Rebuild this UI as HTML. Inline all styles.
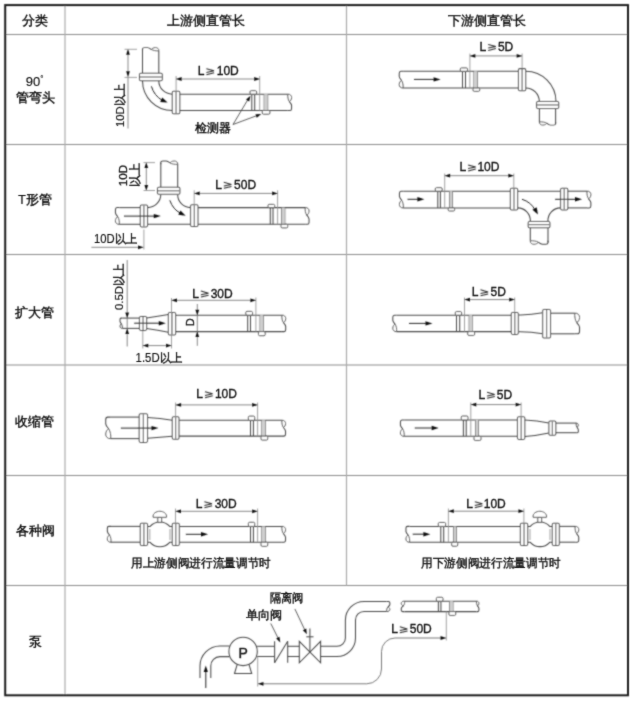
<!DOCTYPE html>
<html><head><meta charset="utf-8"><title>管道安装直管段要求</title>
<style>
html,body{margin:0;padding:0;background:#fff;}
body{width:632px;height:701px;overflow:hidden;position:relative;}
svg{position:absolute;left:0;top:0;}
svg text{font-family:"Liberation Sans",sans-serif;}
.p{fill:none;stroke:#4a4a4a;stroke-width:1.05;}
.t{stroke-width:0.38;}
.lat{stroke-width:0.15;}
.ge{fill:none;stroke:#2a2a2a;stroke-width:1.05;}
.bl{fill:#fff;stroke:#4a4a4a;stroke-width:1;}
.fl{fill:#fff;stroke:#4a4a4a;stroke-width:1.05;}
.fi{fill:none;stroke:#8a8a8a;stroke-width:0.8;}
.fc{fill:none;stroke:#6a6a6a;stroke-width:1.2;}
.sn{fill:#fff;stroke:#4a4a4a;stroke-width:1;}
.band{fill:#cfcfcf;stroke:none;}
.d{fill:none;stroke:#6a6a6a;stroke-width:0.8;}
.dn{fill:none;stroke:#6a6a6a;stroke-width:0.9;}
.e{fill:none;stroke:#8a8a8a;stroke-width:0.8;}
.pt{fill:none;stroke:#333;stroke-width:0.8;}
.fa{fill:none;stroke:#222;stroke-width:1;}
.ah{fill:#111;stroke:none;}
.g{stroke:#8c8c8c;stroke-width:1.15;}
.gv{stroke:#a8a8a8;stroke-width:1.15;}
.ob{fill:none;stroke:#1a1a1a;stroke-width:2;}
.t{fill:#111;stroke:#111;}
.dt{fill:#151515;stroke:#151515;stroke-width:0.35;}
.tp{fill:#222;stroke:#222;stroke-width:0.45;}
</style></head>
<body>
<svg width="632" height="701" viewBox="0 0 632 701">
<defs><filter id="soft" filterUnits="userSpaceOnUse" x="0" y="0" width="632" height="701"><feConvolveMatrix order="3" kernelMatrix="0.04 0.1 0.04 0.1 0.44 0.1 0.04 0.1 0.04" preserveAlpha="false" edgeMode="duplicate"/></filter>
<filter id="softt" filterUnits="userSpaceOnUse" x="0" y="0" width="632" height="701"><feConvolveMatrix order="3" kernelMatrix="0.02 0.08 0.02 0.08 0.6 0.08 0.02 0.08 0.02" preserveAlpha="false" edgeMode="duplicate"/></filter></defs>
<rect x="0" y="0" width="632" height="701" fill="#fff"/>
<g filter="url(#soft)">
<line class="g" x1="5" y1="34.5" x2="628" y2="34.5"/>
<line class="g" x1="5" y1="144.5" x2="628" y2="144.5"/>
<line class="g" x1="5" y1="254.5" x2="628" y2="254.5"/>
<line class="g" x1="5" y1="365" x2="628" y2="365"/>
<line class="g" x1="5" y1="475.5" x2="628" y2="475.5"/>
<line class="g" x1="5" y1="585.5" x2="628" y2="585.5"/>
<line class="gv" x1="65" y1="5" x2="65" y2="695"/>
<line class="gv" x1="346.5" y1="5" x2="346.5" y2="585.5"/>
<rect class="ob" x="5.2" y="5.1" width="622.8" height="690.2"/>
<line class="p" x1="158.8" y1="50.8" x2="158.8" y2="73.5"/>
<line class="p" x1="142.5" y1="49.2" x2="142.5" y2="73.5"/>
<g transform="matrix(0 -0.85 -1 0 158.8 50.8)">
<path class="bl" d="M0 0 C2.34 -0.2 3.87 1.43 3.77 3.46 C3.67 5.5 2.55 6.93 1.53 7.44 C0.31 5.6 -0.2 2.45 0 0 Z"/>
<path class="p" d="M1.53 7.44 C2.55 8.56 3.57 9.58 3.77 11.21 L3.77 14.26 Q3.77 16.3 2.24 16.3 L0 16.3"/>
</g>
<rect class="fl" x="139.5" y="73.3" width="22.8" height="7.4" rx="1.3"/>
<line class="fc" x1="140" y1="77" x2="161.8" y2="77"/>
<path class="p" d="M142.5 80.7 A29.8 29.8 0 0 0 172.3 110.5"/>
<path class="p" d="M158.8 80.7 A13.5 13.5 0 0 0 172.3 94.2"/>
<rect class="fl" x="172.3" y="91.2" width="7.5" height="22.5" rx="1.3"/>
<line class="fc" x1="176.05" y1="91.7" x2="176.05" y2="113.2"/>
<line class="p" x1="179.8" y1="94.2" x2="287.8" y2="94.2"/>
<line class="p" x1="179.8" y1="110.5" x2="287.8" y2="110.5"/>
<path class="bl" d="M287.8 94.2 C290.14 94 291.67 95.63 291.57 97.66 C291.47 99.7 290.35 101.13 289.33 101.64 C288.11 99.8 287.6 96.64 287.8 94.2 Z"/>
<path class="p" d="M289.33 101.64 C290.35 102.76 291.37 103.78 291.57 105.41 L291.57 108.46 Q291.57 110.5 290.04 110.5 L287.8 110.5"/>
<path class="fa" d="M151.4 86.3 Q154 95.5 162.5 100.6"/>
<polygon class="ah" points="167.6,102.6 160.23,101.91 162.2,97.54"/>
<line class="d" x1="128" y1="49.3" x2="128" y2="128.5"/>
<polygon class="ah" points="128,49.3 126.1,54.8 129.9,54.8"/>
<polygon class="ah" points="128,76.7 126.1,71.2 129.9,71.2"/>
<line class="e" x1="124.5" y1="49.3" x2="137" y2="49.3"/>
<line class="e" x1="124.5" y1="77.4" x2="137" y2="77.4"/>
<line class="e" x1="176.1" y1="76" x2="176.1" y2="91.2"/>
<line class="e" x1="259.7" y1="76" x2="259.7" y2="110.5"/>
<line class="d" x1="176.1" y1="79" x2="259.7" y2="79"/>
<polygon class="ah" points="176.1,79 181.6,77.1 181.6,80.9"/>
<polygon class="ah" points="259.7,79 254.2,77.1 254.2,80.9"/>
<path class="ge" d="M206.4 68.7 L214 70.8 L206.4 72.4 M206.4 74.7 L214.1 72.8"/>
<line class="p" x1="251.8" y1="94.2" x2="251.8" y2="110.5"/>
<line class="p" x1="254.7" y1="94.2" x2="254.7" y2="110.5"/>
<rect class="sn" x="250" y="90.7" width="6.6" height="3.5" rx="1.2"/>
<line class="p" x1="264.2" y1="94.2" x2="264.2" y2="110.5"/>
<line class="p" x1="267.7" y1="94.2" x2="267.7" y2="110.5"/>
<rect class="band" x="264.2" y="94.2" width="3.5" height="16.3"/>
<rect class="sn" x="262.3" y="110.5" width="7.6" height="3.7" rx="1.2"/>
<line class="pt" x1="233" y1="124.5" x2="248.5" y2="98.5"/>
<polygon class="ah" points="250.5,95.8 249.26,101.49 246.01,99.51"/>
<line class="pt" x1="233" y1="124.5" x2="258" y2="115.2"/>
<polygon class="ah" points="261.3,114 256.8,117.69 255.48,114.13"/>
<line class="p" x1="403.1" y1="71.3" x2="518.5" y2="71.3"/>
<line class="p" x1="403.1" y1="88" x2="518.5" y2="88"/>
<g transform="rotate(180 403.1 79.65)">
<path class="bl" d="M403.1 71.3 C405.5 71.09 407.07 72.76 406.96 74.85 C406.86 76.94 405.71 78.4 404.67 78.92 C403.41 77.04 402.89 73.8 403.1 71.3 Z"/>
<path class="p" d="M404.67 78.92 C405.71 80.07 406.75 81.11 406.96 82.78 L406.96 85.91 Q406.96 88 405.4 88 L403.1 88"/>
</g>
<line class="fa" x1="414" y1="79.4" x2="436.6" y2="79.4"/>
<polygon class="ah" points="440.6,79.4 433.6,77.2 433.6,81.6"/>
<line class="p" x1="462.5" y1="71.3" x2="462.5" y2="88"/>
<line class="p" x1="465.5" y1="71.3" x2="465.5" y2="88"/>
<rect class="sn" x="460.3" y="67.9" width="7.2" height="3.4" rx="1.2"/>
<line class="p" x1="474" y1="71.3" x2="474" y2="88"/>
<line class="p" x1="477.5" y1="71.3" x2="477.5" y2="88"/>
<rect class="band" x="474" y="71.3" width="3.5" height="16.7"/>
<rect class="sn" x="473" y="88" width="6.7" height="3.3" rx="1.2"/>
<rect class="fl" x="518.5" y="68.6" width="7.2" height="22.2" rx="1.3"/>
<line class="fc" x1="522.1" y1="69.1" x2="522.1" y2="90.3"/>
<path class="p" d="M525.7 71.3 A30.3 30.3 0 0 1 556 101.6"/>
<path class="p" d="M525.7 88 A13.6 13.6 0 0 1 539.3 101.6"/>
<rect class="fl" x="536.6" y="101.4" width="22.1" height="7.1" rx="1.3"/>
<line class="fc" x1="537.1" y1="104.95" x2="558.2" y2="104.95"/>
<line class="p" x1="539.4" y1="108.5" x2="539.4" y2="121.9"/>
<line class="p" x1="555.6" y1="108.5" x2="555.6" y2="123.5"/>
<g transform="matrix(0 0.85 1 0 539.4 121.9)">
<path class="bl" d="M0 0 C2.33 -0.2 3.85 1.42 3.75 3.44 C3.65 5.47 2.53 6.89 1.52 7.39 C0.3 5.57 -0.2 2.43 0 0 Z"/>
<path class="p" d="M1.52 7.39 C2.53 8.51 3.54 9.52 3.75 11.14 L3.75 14.18 Q3.75 16.2 2.23 16.2 L0 16.2"/>
</g>
<line class="e" x1="469.9" y1="53.5" x2="469.9" y2="88"/>
<line class="e" x1="522.1" y1="53.5" x2="522.1" y2="68.6"/>
<line class="d" x1="469.9" y1="55.9" x2="522.1" y2="55.9"/>
<polygon class="ah" points="469.9,55.9 475.4,54 475.4,57.8"/>
<polygon class="ah" points="522.1,55.9 516.6,54 516.6,57.8"/>
<path class="ge" d="M488.2 44.4 L495.8 46.5 L488.2 48.1 M488.2 50.4 L495.9 48.5"/>
<line class="p" x1="119.3" y1="207.6" x2="140.3" y2="207.6"/>
<line class="p" x1="119.3" y1="224.3" x2="140.3" y2="224.3"/>
<g transform="rotate(180 119.3 215.95)">
<path class="bl" d="M119.3 207.6 C121.7 207.39 123.27 209.06 123.16 211.15 C123.06 213.24 121.91 214.7 120.87 215.22 C119.61 213.34 119.09 210.1 119.3 207.6 Z"/>
<path class="p" d="M120.87 215.22 C121.91 216.37 122.95 217.41 123.16 219.08 L123.16 222.21 Q123.16 224.3 121.6 224.3 L119.3 224.3"/>
</g>
<rect class="fl" x="140.3" y="205" width="7.2" height="21.9" rx="1.3"/>
<line class="fc" x1="143.9" y1="205.5" x2="143.9" y2="226.4"/>
<line class="p" x1="147.5" y1="224.3" x2="190.6" y2="224.3"/>
<path class="p" d="M147.5 207.6 A13.3 13.3 0 0 0 160.8 194.3"/>
<path class="p" d="M177.7 194.3 A12.9 12.9 0 0 0 190.6 207.6"/>
<rect class="fl" x="157.5" y="187.3" width="22.4" height="7" rx="1.3"/>
<line class="fc" x1="158" y1="190.8" x2="179.4" y2="190.8"/>
<line class="p" x1="177.7" y1="164.3" x2="177.7" y2="187.3"/>
<line class="p" x1="160.8" y1="162.7" x2="160.8" y2="187.3"/>
<g transform="matrix(0 -0.85 -1 0 177.7 164.3)">
<path class="bl" d="M0 0 C2.43 -0.21 4.01 1.48 3.91 3.59 C3.8 5.7 2.64 7.18 1.58 7.71 C0.32 5.81 -0.21 2.53 0 0 Z"/>
<path class="p" d="M1.58 7.71 C2.64 8.87 3.7 9.93 3.91 11.62 L3.91 14.79 Q3.91 16.9 2.32 16.9 L0 16.9"/>
</g>
<rect class="fl" x="190.6" y="204.7" width="7.4" height="21.9" rx="1.3"/>
<line class="fc" x1="194.3" y1="205.2" x2="194.3" y2="226.1"/>
<line class="p" x1="198" y1="207.6" x2="305.2" y2="207.6"/>
<line class="p" x1="198" y1="224.3" x2="305.2" y2="224.3"/>
<path class="bl" d="M305.2 207.6 C307.6 207.39 309.17 209.06 309.06 211.15 C308.96 213.24 307.81 214.7 306.77 215.22 C305.51 213.34 304.99 210.1 305.2 207.6 Z"/>
<path class="p" d="M306.77 215.22 C307.81 216.37 308.85 217.41 309.06 219.08 L309.06 222.21 Q309.06 224.3 307.5 224.3 L305.2 224.3"/>
<line class="fa" x1="124" y1="216.1" x2="156.8" y2="216.1"/>
<polygon class="ah" points="160.8,216.1 153.8,213.9 153.8,218.3"/>
<path class="fa" d="M169.8 200.3 Q173 209.5 180.5 213.2"/>
<polygon class="ah" points="185.6,215.8 178.29,214.66 180.52,210.42"/>
<line class="d" x1="146.3" y1="162.6" x2="146.3" y2="190.5"/>
<polygon class="ah" points="146.3,162.6 144.4,168.1 148.2,168.1"/>
<polygon class="ah" points="146.3,190.5 144.4,185 148.2,185"/>
<line class="e" x1="143.5" y1="162.6" x2="155" y2="162.6"/>
<line class="e" x1="143.5" y1="190.5" x2="155" y2="190.5"/>
<line class="e" x1="194.2" y1="190.3" x2="194.2" y2="204.7"/>
<line class="e" x1="277.6" y1="190.3" x2="277.6" y2="224.3"/>
<line class="d" x1="194.2" y1="193.4" x2="277.6" y2="193.4"/>
<polygon class="ah" points="194.2,193.4 199.7,191.5 199.7,195.3"/>
<polygon class="ah" points="277.6,193.4 272.1,191.5 272.1,195.3"/>
<path class="ge" d="M223.8 182.3 L231.4 184.4 L223.8 186 M223.8 188.3 L231.5 186.4"/>
<line class="p" x1="270.3" y1="207.6" x2="270.3" y2="224.3"/>
<line class="p" x1="273" y1="207.6" x2="273" y2="224.3"/>
<rect class="sn" x="268" y="204.4" width="6.7" height="3.2" rx="1.2"/>
<line class="p" x1="281.6" y1="207.6" x2="281.6" y2="224.3"/>
<line class="p" x1="284.8" y1="207.6" x2="284.8" y2="224.3"/>
<rect class="band" x="281.6" y="207.6" width="3.2" height="16.7"/>
<rect class="sn" x="281" y="224.3" width="6.7" height="3.6" rx="1.2"/>
<line class="d" x1="91.4" y1="247.3" x2="143.5" y2="247.3"/>
<polygon class="ah" points="143.5,247.3 138,245.4 138,249.2"/>
<line class="e" x1="143.9" y1="229.5" x2="143.9" y2="249.5"/>
<line class="p" x1="403.3" y1="191.2" x2="510.4" y2="191.2"/>
<line class="p" x1="403.3" y1="207.9" x2="510.4" y2="207.9"/>
<g transform="rotate(180 403.3 199.55)">
<path class="bl" d="M403.3 191.2 C405.7 190.99 407.27 192.66 407.16 194.75 C407.06 196.84 405.91 198.3 404.87 198.82 C403.61 196.94 403.09 193.7 403.3 191.2 Z"/>
<path class="p" d="M404.87 198.82 C405.91 199.97 406.95 201.01 407.16 202.68 L407.16 205.81 Q407.16 207.9 405.6 207.9 L403.3 207.9"/>
</g>
<line class="fa" x1="407.5" y1="199.3" x2="420.4" y2="199.3"/>
<polygon class="ah" points="424.4,199.3 417.4,197.1 417.4,201.5"/>
<line class="p" x1="437.8" y1="191.2" x2="437.8" y2="207.9"/>
<line class="p" x1="440.4" y1="191.2" x2="440.4" y2="207.9"/>
<rect class="sn" x="435.3" y="187.7" width="6.9" height="3.5" rx="1.2"/>
<line class="p" x1="449.5" y1="191.2" x2="449.5" y2="207.9"/>
<line class="p" x1="452.3" y1="191.2" x2="452.3" y2="207.9"/>
<rect class="band" x="449.5" y="191.2" width="2.8" height="16.7"/>
<rect class="sn" x="448.2" y="207.9" width="6.4" height="3.1" rx="1.2"/>
<rect class="fl" x="510.4" y="188.2" width="7.2" height="21.9" rx="1.3"/>
<line class="fc" x1="514" y1="188.7" x2="514" y2="209.6"/>
<line class="p" x1="517.6" y1="191.2" x2="560.6" y2="191.2"/>
<path class="p" d="M517.6 207.9 A12.7 12.7 0 0 1 530.3 221.4"/>
<path class="p" d="M548 221.4 A12.6 12.6 0 0 1 560.6 207.9"/>
<rect class="fl" x="528.2" y="221.4" width="21.7" height="6.4" rx="1.3"/>
<line class="fc" x1="528.7" y1="224.6" x2="549.4" y2="224.6"/>
<line class="p" x1="530.3" y1="227.8" x2="530.3" y2="240.8"/>
<line class="p" x1="548" y1="227.8" x2="548" y2="242.4"/>
<g transform="matrix(0 0.85 1 0 530.3 240.8)">
<path class="bl" d="M0 0 C2.54 -0.22 4.2 1.55 4.09 3.76 C3.98 5.97 2.77 7.52 1.66 8.08 C0.33 6.08 -0.22 2.66 0 0 Z"/>
<path class="p" d="M1.66 8.08 C2.77 9.29 3.87 10.4 4.09 12.17 L4.09 15.49 Q4.09 17.7 2.43 17.7 L0 17.7"/>
</g>
<rect class="fl" x="560.6" y="188.2" width="7.2" height="21.7" rx="1.3"/>
<line class="fc" x1="564.2" y1="188.7" x2="564.2" y2="209.4"/>
<line class="p" x1="567.8" y1="191.2" x2="587" y2="191.2"/>
<line class="p" x1="567.8" y1="207.9" x2="587" y2="207.9"/>
<path class="bl" d="M587 191.2 C589.4 190.99 590.97 192.66 590.86 194.75 C590.76 196.84 589.61 198.3 588.57 198.82 C587.31 196.94 586.79 193.7 587 191.2 Z"/>
<path class="p" d="M588.57 198.82 C589.61 199.97 590.65 201.01 590.86 202.68 L590.86 205.81 Q590.86 207.9 589.3 207.9 L587 207.9"/>
<line class="fa" x1="555.1" y1="199.3" x2="578" y2="199.3"/>
<polygon class="ah" points="582,199.3 575,197.1 575,201.5"/>
<path class="fa" d="M522 199.3 Q531 202 535 210"/>
<polygon class="ah" points="538,214.6 532.49,209.66 536.68,207.32"/>
<line class="e" x1="444.7" y1="173.5" x2="444.7" y2="207.9"/>
<line class="e" x1="513.8" y1="173.5" x2="513.8" y2="188.2"/>
<line class="d" x1="444.7" y1="175.7" x2="513.8" y2="175.7"/>
<polygon class="ah" points="444.7,175.7 450.2,173.8 450.2,177.6"/>
<polygon class="ah" points="513.8,175.7 508.3,173.8 508.3,177.6"/>
<path class="ge" d="M468.1 164.9 L475.7 167 L468.1 168.6 M468.1 170.9 L475.8 169"/>
<line class="p" x1="122.4" y1="318.1" x2="139.5" y2="318.1"/>
<line class="p" x1="122.4" y1="328.4" x2="139.5" y2="328.4"/>
<g transform="rotate(180 122.4 323.25)">
<path class="bl" d="M122.4 318.1 C123.88 317.97 124.85 319 124.78 320.29 C124.72 321.58 124.01 322.48 123.37 322.8 C122.59 321.64 122.27 319.65 122.4 318.1 Z"/>
<path class="p" d="M123.37 322.8 C124.01 323.51 124.65 324.15 124.78 325.18 L124.78 327.11 Q124.78 328.4 123.82 328.4 L122.4 328.4"/>
</g>
<rect class="fl" x="139.5" y="316.5" width="7.1" height="13.9" rx="1.3"/>
<line class="fc" x1="143.05" y1="317" x2="143.05" y2="329.9"/>
<path class="p" d="M146.6 318 Q158 316.5 168.4 314.6"/>
<path class="p" d="M146.6 328.5 Q158 330 168.4 332.2"/>
<rect class="fl" x="168.4" y="312.5" width="7.2" height="22.5" rx="1.3"/>
<line class="fc" x1="172" y1="313" x2="172" y2="334.5"/>
<line class="p" x1="175.6" y1="315.2" x2="281.9" y2="315.2"/>
<line class="p" x1="175.6" y1="331.6" x2="281.9" y2="331.6"/>
<path class="bl" d="M281.9 315.2 C284.26 315 285.79 316.63 285.69 318.69 C285.59 320.74 284.46 322.17 283.44 322.68 C282.21 320.84 281.69 317.66 281.9 315.2 Z"/>
<path class="p" d="M283.44 322.68 C284.46 323.81 285.49 324.84 285.69 326.48 L285.69 329.55 Q285.69 331.6 284.15 331.6 L281.9 331.6"/>
<line class="fa" x1="134.2" y1="323.2" x2="161.8" y2="323.2"/>
<polygon class="ah" points="165.8,323.2 158.8,321 158.8,325.4"/>
<line class="d" x1="127.2" y1="260" x2="127.2" y2="346.5"/>
<polygon class="ah" points="127.2,318.1 125.3,312.6 129.1,312.6"/>
<polygon class="ah" points="127.2,328.4 125.3,333.9 129.1,333.9"/>
<line class="e" x1="142.8" y1="331" x2="142.8" y2="348.5"/>
<line class="e" x1="171.5" y1="298" x2="171.5" y2="348.5"/>
<line class="d" x1="142.8" y1="345.6" x2="171.5" y2="345.6"/>
<polygon class="ah" points="142.8,345.6 148.3,343.7 148.3,347.5"/>
<polygon class="ah" points="171.5,345.6 166,343.7 166,347.5"/>
<line class="e" x1="255.9" y1="297.5" x2="255.9" y2="331.6"/>
<line class="d" x1="171.5" y1="300.3" x2="255.9" y2="300.3"/>
<polygon class="ah" points="171.5,300.3 177,298.4 177,302.2"/>
<polygon class="ah" points="255.9,300.3 250.4,298.4 250.4,302.2"/>
<path class="ge" d="M200.9 291.1 L208.5 293.2 L200.9 294.8 M200.9 297.1 L208.6 295.2"/>
<line class="d" x1="197.3" y1="304" x2="197.3" y2="345.8"/>
<polygon class="ah" points="197.3,315.2 195.4,309.7 199.2,309.7"/>
<polygon class="ah" points="197.3,331.6 195.4,337.1 199.2,337.1"/>
<line class="p" x1="247.7" y1="315.2" x2="247.7" y2="331.6"/>
<line class="p" x1="250.5" y1="315.2" x2="250.5" y2="331.6"/>
<rect class="sn" x="245.8" y="311.4" width="6.7" height="3.8" rx="1.2"/>
<line class="p" x1="260.1" y1="315.2" x2="260.1" y2="331.6"/>
<line class="p" x1="263.2" y1="315.2" x2="263.2" y2="331.6"/>
<rect class="band" x="260.1" y="315.2" width="3.1" height="16.4"/>
<rect class="sn" x="258.5" y="331.6" width="6.7" height="4.1" rx="1.2"/>
<line class="p" x1="396.6" y1="315.2" x2="511.3" y2="315.2"/>
<line class="p" x1="396.6" y1="331.6" x2="511.3" y2="331.6"/>
<g transform="rotate(180 396.6 323.4)">
<path class="bl" d="M396.6 315.2 C398.96 315 400.5 316.63 400.39 318.69 C400.29 320.74 399.16 322.17 398.14 322.68 C396.91 320.84 396.4 317.66 396.6 315.2 Z"/>
<path class="p" d="M398.14 322.68 C399.16 323.81 400.19 324.84 400.39 326.48 L400.39 329.55 Q400.39 331.6 398.86 331.6 L396.6 331.6"/>
</g>
<line class="fa" x1="409" y1="323.4" x2="428.5" y2="323.4"/>
<polygon class="ah" points="432.5,323.4 425.5,321.2 425.5,325.6"/>
<line class="p" x1="456.5" y1="315.2" x2="456.5" y2="331.6"/>
<line class="p" x1="459.7" y1="315.2" x2="459.7" y2="331.6"/>
<rect class="sn" x="455.3" y="311.6" width="6.3" height="3.6" rx="1.2"/>
<line class="p" x1="469.2" y1="315.2" x2="469.2" y2="331.6"/>
<line class="p" x1="472.1" y1="315.2" x2="472.1" y2="331.6"/>
<rect class="band" x="469.2" y="315.2" width="2.9" height="16.4"/>
<rect class="sn" x="467.7" y="331.6" width="6.9" height="3.8" rx="1.2"/>
<rect class="fl" x="511.3" y="312.5" width="7" height="21.9" rx="1.3"/>
<line class="fc" x1="514.8" y1="313" x2="514.8" y2="333.9"/>
<path class="p" d="M518.3 314.9 Q530 315.2 542.7 312.8"/>
<path class="p" d="M518.3 331.8 Q530 331.6 542.7 333.8"/>
<rect class="fl" x="542.7" y="309.4" width="7.8" height="28.6" rx="1.3"/>
<line class="fc" x1="546.6" y1="309.9" x2="546.6" y2="337.5"/>
<line class="p" x1="550.5" y1="313.2" x2="574.8" y2="313.2"/>
<line class="p" x1="550.5" y1="333.8" x2="574.8" y2="333.8"/>
<path class="bl" d="M574.8 313.2 C577.76 312.94 579.69 315 579.56 317.58 C579.43 320.15 578.02 321.95 576.73 322.6 C575.19 320.28 574.54 316.29 574.8 313.2 Z"/>
<path class="p" d="M576.73 322.6 C578.02 324.01 579.31 325.3 579.56 327.36 L579.56 331.23 Q579.56 333.8 577.63 333.8 L574.8 333.8"/>
<line class="e" x1="464.5" y1="297.5" x2="464.5" y2="331.6"/>
<line class="e" x1="514.7" y1="297.5" x2="514.7" y2="312.5"/>
<line class="d" x1="464.5" y1="299.6" x2="514.7" y2="299.6"/>
<polygon class="ah" points="464.5,299.6 470,297.7 470,301.5"/>
<polygon class="ah" points="514.7,299.6 509.2,297.7 509.2,301.5"/>
<path class="ge" d="M480.5 289.8 L488.1 291.9 L480.5 293.5 M480.5 295.8 L488.2 293.9"/>
<line class="p" x1="110.7" y1="417.1" x2="139.2" y2="417.1"/>
<line class="p" x1="110.7" y1="438.6" x2="139.2" y2="438.6"/>
<g transform="rotate(180 110.7 427.85)">
<path class="bl" d="M110.7 417.1 C113.79 416.83 115.81 418.98 115.67 421.67 C115.54 424.36 114.06 426.24 112.72 426.91 C111.1 424.49 110.43 420.33 110.7 417.1 Z"/>
<path class="p" d="M112.72 426.91 C114.06 428.39 115.4 429.73 115.67 431.88 L115.67 435.91 Q115.67 438.6 113.66 438.6 L110.7 438.6"/>
</g>
<rect class="fl" x="139.2" y="413.7" width="8.3" height="28.7" rx="1.3"/>
<line class="fc" x1="143.35" y1="414.2" x2="143.35" y2="441.9"/>
<path class="p" d="M147.5 417.6 Q160 418.5 172.3 420.2"/>
<path class="p" d="M147.5 438.2 Q160 437.4 172.3 436.2"/>
<rect class="fl" x="172.3" y="416.8" width="6.7" height="22.4" rx="1.3"/>
<line class="fc" x1="175.65" y1="417.3" x2="175.65" y2="438.7"/>
<line class="p" x1="179" y1="420.3" x2="281.9" y2="420.3"/>
<line class="p" x1="179" y1="436.1" x2="281.9" y2="436.1"/>
<path class="bl" d="M281.9 420.3 C284.17 420.1 285.65 421.68 285.55 423.66 C285.45 425.63 284.37 427.02 283.38 427.51 C282.2 425.73 281.7 422.67 281.9 420.3 Z"/>
<path class="p" d="M283.38 427.51 C284.37 428.6 285.36 429.58 285.55 431.16 L285.55 434.12 Q285.55 436.1 284.07 436.1 L281.9 436.1"/>
<line class="fa" x1="120.9" y1="428.1" x2="154.5" y2="428.1"/>
<polygon class="ah" points="158.5,428.1 151.5,425.9 151.5,430.3"/>
<line class="e" x1="175.6" y1="402.5" x2="175.6" y2="416.8"/>
<line class="e" x1="257.6" y1="402.5" x2="257.6" y2="436.1"/>
<line class="d" x1="175.6" y1="404.9" x2="257.6" y2="404.9"/>
<polygon class="ah" points="175.6,404.9 181.1,403 181.1,406.8"/>
<polygon class="ah" points="257.6,404.9 252.1,403 252.1,406.8"/>
<path class="ge" d="M205 391.7 L212.6 393.8 L205 395.4 M205 397.7 L212.7 395.8"/>
<line class="p" x1="250.5" y1="420.3" x2="250.5" y2="436.1"/>
<line class="p" x1="253.4" y1="420.3" x2="253.4" y2="436.1"/>
<rect class="sn" x="248.4" y="416.1" width="6.3" height="4.2" rx="1.2"/>
<line class="p" x1="261.9" y1="420.3" x2="261.9" y2="436.1"/>
<line class="p" x1="265.2" y1="420.3" x2="265.2" y2="436.1"/>
<rect class="band" x="261.9" y="420.3" width="3.3" height="15.8"/>
<rect class="sn" x="261" y="436.1" width="6.7" height="4" rx="1.2"/>
<line class="p" x1="404.2" y1="420" x2="517.5" y2="420"/>
<line class="p" x1="404.2" y1="436.3" x2="517.5" y2="436.3"/>
<g transform="rotate(180 404.2 428.15)">
<path class="bl" d="M404.2 420 C406.54 419.8 408.07 421.43 407.97 423.46 C407.87 425.5 406.75 426.93 405.73 427.44 C404.51 425.6 404 422.44 404.2 420 Z"/>
<path class="p" d="M405.73 427.44 C406.75 428.56 407.77 429.58 407.97 431.21 L407.97 434.26 Q407.97 436.3 406.44 436.3 L404.2 436.3"/>
</g>
<line class="fa" x1="414.7" y1="428" x2="434.7" y2="428"/>
<polygon class="ah" points="438.7,428 431.7,425.8 431.7,430.2"/>
<line class="p" x1="463.4" y1="420" x2="463.4" y2="436.3"/>
<line class="p" x1="466.2" y1="420" x2="466.2" y2="436.3"/>
<rect class="sn" x="461.3" y="416" width="6.7" height="4" rx="1.2"/>
<line class="p" x1="475.5" y1="420" x2="475.5" y2="436.3"/>
<line class="p" x1="478.4" y1="420" x2="478.4" y2="436.3"/>
<rect class="band" x="475.5" y="420" width="2.9" height="16.3"/>
<rect class="sn" x="474" y="436.3" width="7" height="4.1" rx="1.2"/>
<rect class="fl" x="517.5" y="416.7" width="7.3" height="22.7" rx="1.3"/>
<line class="fc" x1="521.15" y1="417.2" x2="521.15" y2="438.9"/>
<path class="p" d="M524.8 420.1 Q537 420.6 548.9 422.9"/>
<path class="p" d="M524.8 436.5 Q537 435.6 548.9 433"/>
<rect class="fl" x="548.9" y="421" width="6.9" height="14.3" rx="1.3"/>
<line class="fc" x1="552.35" y1="421.5" x2="552.35" y2="434.8"/>
<line class="p" x1="555.8" y1="423.1" x2="576.1" y2="423.1"/>
<line class="p" x1="555.8" y1="432.7" x2="576.1" y2="432.7"/>
<path class="bl" d="M576.1 423.1 C577.48 422.98 578.38 423.94 578.32 425.14 C578.26 426.34 577.6 427.18 577 427.48 C576.28 426.4 575.98 424.54 576.1 423.1 Z"/>
<path class="p" d="M577 427.48 C577.6 428.14 578.2 428.74 578.32 429.7 L578.32 431.5 Q578.32 432.7 577.42 432.7 L576.1 432.7"/>
<line class="e" x1="470.8" y1="402.5" x2="470.8" y2="436.3"/>
<line class="e" x1="521.1" y1="402.5" x2="521.1" y2="416.7"/>
<line class="d" x1="470.8" y1="404.6" x2="521.1" y2="404.6"/>
<polygon class="ah" points="470.8,404.6 476.3,402.7 476.3,406.5"/>
<polygon class="ah" points="521.1,404.6 515.6,402.7 515.6,406.5"/>
<path class="ge" d="M487.1 392.3 L494.7 394.4 L487.1 396 M487.1 398.3 L494.8 396.4"/>
<line class="p" x1="111" y1="526.4" x2="140.3" y2="526.4"/>
<line class="p" x1="111" y1="542.2" x2="140.3" y2="542.2"/>
<g transform="rotate(180 111 534.3)">
<path class="bl" d="M111 526.4 C113.27 526.2 114.75 527.78 114.65 529.76 C114.56 531.73 113.47 533.12 112.48 533.61 C111.3 531.83 110.8 528.77 111 526.4 Z"/>
<path class="p" d="M112.48 533.61 C113.47 534.7 114.46 535.68 114.65 537.26 L114.65 540.23 Q114.65 542.2 113.17 542.2 L111 542.2"/>
</g>
<rect class="fl" x="140.3" y="523.2" width="7.2" height="22.3" rx="1.3"/>
<line class="fc" x1="143.9" y1="523.7" x2="143.9" y2="545"/>
<rect class="fl" x="172.3" y="523.2" width="7" height="22.3" rx="1.3"/>
<line class="fc" x1="175.8" y1="523.7" x2="175.8" y2="545"/>
<path class="p" d="M147.5 526.4 L150.1 526.4 A13 13 0 0 1 169.7 526.4 L172.3 526.4"/>
<path class="p" d="M147.5 542.3 L150.1 542.3 A13 13 0 0 0 169.7 542.3 L172.3 542.3"/>
<line class="fi" x1="149.8" y1="529" x2="149.8" y2="540"/>
<line class="fi" x1="170" y1="529" x2="170" y2="540"/>
<rect class="sn" x="157.8" y="517.5" width="3.8" height="4.8" rx="0.3"/>
<path class="sn" d="M153.2 517.3 L166.4 517.3 C167.2 513.5 163.3 511.3 159.8 511.3 C156.3 511.3 152.4 513.5 153.2 517.3 Z"/>
<line class="p" x1="179.3" y1="526.4" x2="281.9" y2="526.4"/>
<line class="p" x1="179.3" y1="542.2" x2="281.9" y2="542.2"/>
<path class="bl" d="M281.9 526.4 C284.17 526.2 285.65 527.78 285.55 529.76 C285.45 531.73 284.37 533.12 283.38 533.61 C282.2 531.83 281.7 528.77 281.9 526.4 Z"/>
<path class="p" d="M283.38 533.61 C284.37 534.7 285.36 535.68 285.55 537.26 L285.55 540.23 Q285.55 542.2 284.07 542.2 L281.9 542.2"/>
<line class="fa" x1="185.8" y1="534.3" x2="204" y2="534.3"/>
<polygon class="ah" points="208,534.3 201,532.1 201,536.5"/>
<line class="e" x1="175.5" y1="508.5" x2="175.5" y2="523.2"/>
<line class="e" x1="257.6" y1="508.5" x2="257.6" y2="542.2"/>
<line class="d" x1="175.5" y1="511.3" x2="257.6" y2="511.3"/>
<polygon class="ah" points="175.5,511.3 181,509.4 181,513.2"/>
<polygon class="ah" points="257.6,511.3 252.1,509.4 252.1,513.2"/>
<path class="ge" d="M204.4 501.7 L212 503.8 L204.4 505.4 M204.4 507.7 L212.1 505.8"/>
<line class="p" x1="250.5" y1="526.4" x2="250.5" y2="542.2"/>
<line class="p" x1="253.4" y1="526.4" x2="253.4" y2="542.2"/>
<rect class="sn" x="248.4" y="522.3" width="6.3" height="4.1" rx="1.2"/>
<line class="p" x1="261.9" y1="526.4" x2="261.9" y2="542.2"/>
<line class="p" x1="265.2" y1="526.4" x2="265.2" y2="542.2"/>
<rect class="band" x="261.9" y="526.4" width="3.3" height="15.8"/>
<rect class="sn" x="261" y="542.2" width="6.7" height="4.1" rx="1.2"/>
<line class="p" x1="409.6" y1="526.4" x2="520.4" y2="526.4"/>
<line class="p" x1="409.6" y1="542.2" x2="520.4" y2="542.2"/>
<g transform="rotate(180 409.6 534.3)">
<path class="bl" d="M409.6 526.4 C411.87 526.2 413.35 527.78 413.25 529.76 C413.16 531.73 412.07 533.12 411.08 533.61 C409.9 531.83 409.4 528.77 409.6 526.4 Z"/>
<path class="p" d="M411.08 533.61 C412.07 534.7 413.06 535.68 413.25 537.26 L413.25 540.23 Q413.25 542.2 411.77 542.2 L409.6 542.2"/>
</g>
<line class="fa" x1="412.7" y1="534.2" x2="426.4" y2="534.2"/>
<polygon class="ah" points="430.4,534.2 423.4,532 423.4,536.4"/>
<line class="p" x1="440.8" y1="526.4" x2="440.8" y2="542.2"/>
<line class="p" x1="443.7" y1="526.4" x2="443.7" y2="542.2"/>
<rect class="sn" x="438.3" y="522.5" width="7.3" height="3.9" rx="1.2"/>
<line class="p" x1="453.5" y1="526.4" x2="453.5" y2="542.2"/>
<line class="p" x1="456.4" y1="526.4" x2="456.4" y2="542.2"/>
<rect class="band" x="453.5" y="526.4" width="2.9" height="15.8"/>
<rect class="sn" x="451.7" y="542.2" width="6" height="4" rx="1.2"/>
<rect class="fl" x="520.4" y="523.2" width="7.3" height="22.3" rx="1.3"/>
<line class="fc" x1="524.05" y1="523.7" x2="524.05" y2="545"/>
<rect class="fl" x="552.3" y="523.2" width="7" height="22.3" rx="1.3"/>
<line class="fc" x1="555.8" y1="523.7" x2="555.8" y2="545"/>
<path class="p" d="M527.7 526.4 L530.3 526.4 A13 13 0 0 1 549.7 526.4 L552.3 526.4"/>
<path class="p" d="M527.7 542.3 L530.3 542.3 A13 13 0 0 0 549.7 542.3 L552.3 542.3"/>
<line class="fi" x1="530" y1="529" x2="530" y2="540"/>
<line class="fi" x1="550" y1="529" x2="550" y2="540"/>
<rect class="sn" x="537.8" y="517.5" width="3.8" height="4.8" rx="0.3"/>
<path class="sn" d="M533.2 517.3 L546.4 517.3 C547.2 513.5 543.3 511.3 539.8 511.3 C536.3 511.3 532.4 513.5 533.2 517.3 Z"/>
<line class="p" x1="559.3" y1="526.4" x2="575.1" y2="526.4"/>
<line class="p" x1="559.3" y1="542.2" x2="575.1" y2="542.2"/>
<path class="bl" d="M575.1 526.4 C577.37 526.2 578.85 527.78 578.75 529.76 C578.66 531.73 577.57 533.12 576.58 533.61 C575.4 531.83 574.9 528.77 575.1 526.4 Z"/>
<path class="p" d="M576.58 533.61 C577.57 534.7 578.56 535.68 578.75 537.26 L578.75 540.23 Q578.75 542.2 577.27 542.2 L575.1 542.2"/>
<line class="e" x1="448.4" y1="508.5" x2="448.4" y2="542.2"/>
<line class="e" x1="523.9" y1="508.5" x2="523.9" y2="523.2"/>
<line class="d" x1="448.4" y1="511.2" x2="523.9" y2="511.2"/>
<polygon class="ah" points="448.4,511.2 453.9,509.3 453.9,513.1"/>
<polygon class="ah" points="523.9,511.2 518.4,509.3 518.4,513.1"/>
<path class="ge" d="M474.8 501.7 L482.4 503.8 L474.8 505.4 M474.8 507.7 L482.5 505.8"/>
<path class="p" d="M200 678 L200 666 A20 20 0 0 1 220 646 L229.5 646"/>
<path class="p" d="M210.8 678 L210.8 666 A9.2 9.2 0 0 1 220 656.6 L229.5 656.6"/>
<line class="fa" x1="205.8" y1="688" x2="205.8" y2="670"/>
<polygon class="ah" points="205.8,665.6 203.7,672.1 207.9,672.1"/>
<circle class="p" cx="243.1" cy="651.4" r="14.2"/>
<path class="p" d="M237.2 664.4 L234.5 673.5 L251.7 673.5 L249 664.4"/>
<line class="p" x1="257.2" y1="646.3" x2="274.6" y2="646.3"/>
<line class="p" x1="257.2" y1="656.5" x2="274.6" y2="656.5"/>
<line class="p" x1="274.6" y1="641.3" x2="274.6" y2="662.8"/>
<line class="p" x1="274.6" y1="662.8" x2="287.7" y2="641.3"/>
<line class="p" x1="287.7" y1="641.3" x2="287.7" y2="662.8"/>
<line class="p" x1="287.7" y1="646.3" x2="299.3" y2="646.3"/>
<line class="p" x1="287.7" y1="656.5" x2="299.3" y2="656.5"/>
<path class="p" d="M299.3 641.3 L299.3 662.8 L320.6 641.3 L320.6 662.8 Z"/>
<line class="p" x1="309.9" y1="628.6" x2="309.9" y2="651.9"/>
<line class="p" x1="306.3" y1="636.8" x2="313.5" y2="636.8"/>
<path class="p" d="M320.6 646.3 L337 646.3 A8.4 8.4 0 0 0 345.4 637.9 L345.4 620 A18.6 18.6 0 0 1 364 601.4 L386.7 601.4"/>
<path class="p" d="M320.6 656.5 L337 656.5 A18.5 18.5 0 0 0 355.5 638 L355.5 620 A8.5 8.5 0 0 1 364 611.5 L386.7 611.5"/>
<g transform="translate(0 1212.9) scale(1 -1)">
<path class="bl" d="M386.7 601.4 C388.65 601.27 389.93 602.28 389.84 603.55 C389.76 604.81 388.82 605.69 387.97 606.01 C386.95 604.87 386.53 602.91 386.7 601.4 Z"/>
<path class="p" d="M387.97 606.01 C388.82 606.7 389.68 607.33 389.84 608.34 L389.84 610.24 Q389.84 611.5 388.57 611.5 L386.7 611.5"/>
</g>
<line class="p" x1="404.6" y1="601.2" x2="476.5" y2="601.2"/>
<line class="p" x1="404.6" y1="611.6" x2="476.5" y2="611.6"/>
<g transform="rotate(180 404.6 606.4) translate(0 1212.8) scale(1 -1)">
<path class="bl" d="M404.6 601.2 C406.67 601.07 408.02 602.11 407.93 603.41 C407.84 604.71 406.85 605.62 405.95 605.95 C404.87 604.78 404.42 602.76 404.6 601.2 Z"/>
<path class="p" d="M405.95 605.95 C406.85 606.66 407.75 607.31 407.93 608.35 L407.93 610.3 Q407.93 611.6 406.58 611.6 L404.6 611.6"/>
</g>
<path class="bl" d="M476.5 601.2 C478 601.07 478.97 602.11 478.9 603.41 C478.84 604.71 478.12 605.62 477.48 605.95 C476.69 604.78 476.37 602.76 476.5 601.2 Z"/>
<path class="p" d="M477.48 605.95 C478.12 606.66 478.77 607.31 478.9 608.35 L478.9 610.3 Q478.9 611.6 477.93 611.6 L476.5 611.6"/>
<line class="p" x1="438.4" y1="601.2" x2="438.4" y2="611.6"/>
<line class="p" x1="440.9" y1="601.2" x2="440.9" y2="611.6"/>
<rect class="sn" x="436.4" y="597.3" width="6.6" height="3.9" rx="1.2"/>
<line class="p" x1="449.7" y1="601.2" x2="449.7" y2="611.6"/>
<line class="p" x1="452.9" y1="601.2" x2="452.9" y2="611.6"/>
<rect class="band" x="449.7" y="601.2" width="3.2" height="10.4"/>
<rect class="sn" x="448.9" y="611.6" width="6.8" height="3.8" rx="1.2"/>
<line class="e" x1="446.3" y1="611.6" x2="446.3" y2="640.5"/>
<path class="dn" d="M446 638 L395 638 A13.5 13.5 0 0 0 381.5 651.5 L381.5 669 A14.8 14.8 0 0 1 366.7 683.8 L258 683.8"/>
<polygon class="ah" points="446,638 440.5,636.1 440.5,639.9"/>
<polygon class="ah" points="258,683.8 263.5,681.9 263.5,685.7"/>
<line class="e" x1="257.7" y1="656.5" x2="257.7" y2="686.5"/>
<path class="ge" d="M399.8 626.8 L407.4 628.9 L399.8 630.5 M399.8 632.8 L407.5 630.9"/>
<line class="pt" x1="270.8" y1="623.5" x2="278" y2="638"/>
<polygon class="ah" points="280.3,642.5 276.14,638.43 279.54,636.73"/>
<line class="pt" x1="294.9" y1="609" x2="304.6" y2="629.5"/>
<polygon class="ah" points="306.9,634.3 302.83,630.14 306.26,628.52"/>
</g>
<g filter="url(#softt)">
<text class="t" x="35.3" y="24.8" font-size="13" text-anchor="middle">分类</text>
<text class="t" x="205.5" y="24.8" font-size="13" text-anchor="middle">上游侧直管长</text>
<text class="t" x="486.5" y="24.8" font-size="13" text-anchor="middle">下游侧直管长</text>
<text class="t" x="34.7" y="86.1" font-size="13" text-anchor="middle"><tspan class="lat">90</tspan><tspan class="lat" font-size="8" dy="-4.8">°</tspan></text>
<text class="t" x="35.3" y="102.4" font-size="13" text-anchor="middle">管弯头</text>
<text class="t" x="35" y="203.8" font-size="13" text-anchor="middle"><tspan class="lat">T</tspan>形管</text>
<text class="t" x="34.7" y="316.5" font-size="13" text-anchor="middle">扩大管</text>
<text class="t" x="34.7" y="426.2" font-size="13" text-anchor="middle">收缩管</text>
<text class="t" x="35.3" y="535.1" font-size="13" text-anchor="middle">各种阀</text>
<text class="t" x="35.2" y="646.4" font-size="13" text-anchor="middle">泵</text>
<text class="t" x="-21.75" y="0" font-size="11.8" text-anchor="start" textLength="43.5" lengthAdjust="spacingAndGlyphs" transform="translate(123.6 105.25) rotate(-90)"><tspan class="lat">10D</tspan>以上</text>
<text class="dt" x="197.75" y="75.1" font-size="12" text-anchor="start">L</text>
<text class="dt" x="238.75" y="75.1" font-size="12" text-anchor="end">10D</text>
<text class="t" x="213.3" y="131.8" font-size="11.6" text-anchor="middle">检测器</text>
<text class="dt" x="479.55" y="50.8" font-size="12" text-anchor="start">L</text>
<text class="dt" x="513.25" y="50.8" font-size="12" text-anchor="end">5D</text>
<text class="dt" x="0" y="0" font-size="11.6" text-anchor="middle" transform="translate(126.9 175.6) rotate(-90)">10D</text>
<text class="t" x="0" y="0" font-size="12" text-anchor="middle" transform="translate(139.2 175.3) rotate(-90)">以上</text>
<text class="dt" x="215.15" y="188.7" font-size="12" text-anchor="start">L</text>
<text class="dt" x="256.05" y="188.7" font-size="12" text-anchor="end">50D</text>
<text class="t" x="93.9" y="242.9" font-size="12" text-anchor="start" textLength="43.1" lengthAdjust="spacingAndGlyphs"><tspan class="lat">10D</tspan>以上</text>
<text class="dt" x="459.45" y="171.3" font-size="12" text-anchor="start">L</text>
<text class="dt" x="499.45" y="171.3" font-size="12" text-anchor="end">10D</text>
<text class="t" x="-23.5" y="0" font-size="11.8" text-anchor="start" textLength="47" lengthAdjust="spacingAndGlyphs" transform="translate(123.4 286.5) rotate(-90)"><tspan class="lat">0.5D</tspan>以上</text>
<text class="t" x="135.6" y="362.3" font-size="12" text-anchor="start" textLength="46.7" lengthAdjust="spacingAndGlyphs"><tspan class="lat">1.5D</tspan>以上</text>
<text class="dt" x="192.25" y="297.5" font-size="12" text-anchor="start">L</text>
<text class="dt" x="232.65" y="297.5" font-size="12" text-anchor="end">30D</text>
<text class="dt" x="0" y="0" font-size="11" text-anchor="middle" transform="translate(193.6 322.4) rotate(-90)">D</text>
<text class="dt" x="471.85" y="296.2" font-size="12" text-anchor="start">L</text>
<text class="dt" x="505.85" y="296.2" font-size="12" text-anchor="end">5D</text>
<text class="dt" x="196.35" y="398.1" font-size="12" text-anchor="start">L</text>
<text class="dt" x="236.95" y="398.1" font-size="12" text-anchor="end">10D</text>
<text class="dt" x="478.45" y="398.7" font-size="12" text-anchor="start">L</text>
<text class="dt" x="512.15" y="398.7" font-size="12" text-anchor="end">5D</text>
<text class="dt" x="195.75" y="508.1" font-size="12" text-anchor="start">L</text>
<text class="dt" x="236.65" y="508.1" font-size="12" text-anchor="end">30D</text>
<text class="t" x="131" y="567" font-size="12" text-anchor="start" textLength="140" lengthAdjust="spacingAndGlyphs">用上游侧阀进行流量调节时</text>
<text class="dt" x="466.15" y="508.1" font-size="12" text-anchor="start">L</text>
<text class="dt" x="505.75" y="508.1" font-size="12" text-anchor="end">10D</text>
<text class="t" x="421" y="567" font-size="12" text-anchor="start" textLength="140" lengthAdjust="spacingAndGlyphs">用下游侧阀进行流量调节时</text>
<text class="tp" x="243.1" y="657.5" font-size="14" text-anchor="middle">P</text>
<text class="dt" x="391.15" y="633.2" font-size="12" text-anchor="start">L</text>
<text class="dt" x="431.75" y="633.2" font-size="12" text-anchor="end">50D</text>
<text class="t" x="286.8" y="602.2" font-size="11.5" text-anchor="middle" textLength="33.8" lengthAdjust="spacingAndGlyphs">隔离阀</text>
<text class="t" x="264.2" y="619.4" font-size="11.7" text-anchor="middle" textLength="36.5" lengthAdjust="spacingAndGlyphs">单向阀</text>
</g>
</svg>
</body></html>
